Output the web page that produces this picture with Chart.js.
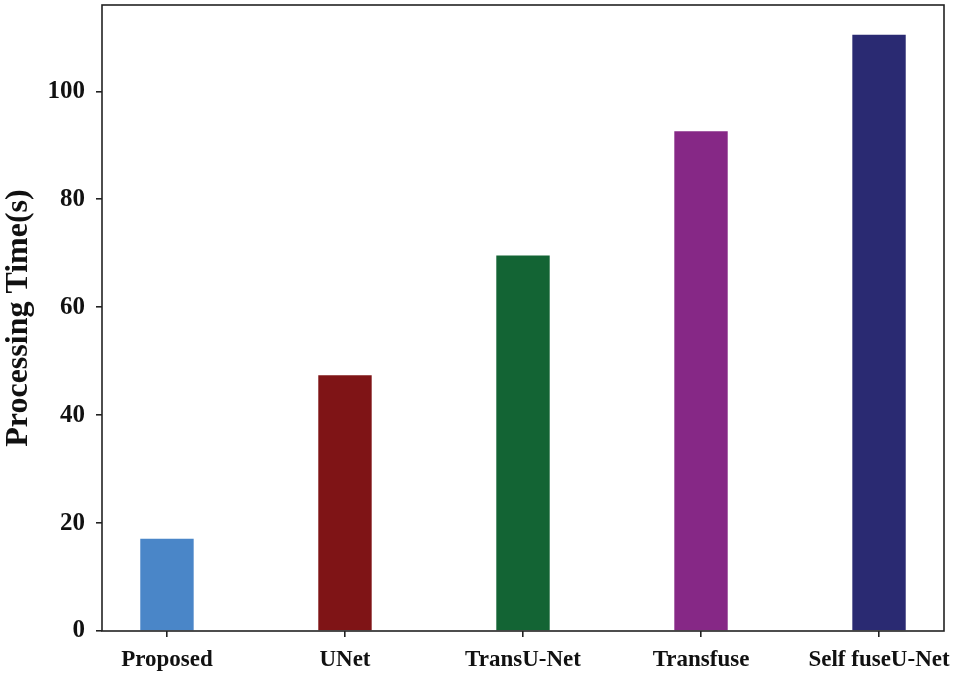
<!DOCTYPE html>
<html>
<head>
<meta charset="utf-8">
<script src="https://cdn.jsdelivr.net/npm/chart.js@4/dist/chart.umd.min.js"></script>
<style>
    html, body { margin: 0; padding: 0; background: #fff; }
    #wrap { width: 955px; height: 673px; }
</style>
</head>
<body>
<div id="wrap"><canvas id="timeChart" width="955" height="673"></canvas></div>
<script>
const methods = ['Proposed', 'UNet', 'TransU-Net', 'Transfuse', 'Self fuseU-Net'];
const processingTimes = [17.1, 47.4, 69.6, 92.6, 110.5];
const barColors = ['#4a86c8', '#7f1416', '#136434', '#862886', '#2a2a72'];
const yTicks = [0, 20, 40, 60, 80, 100];

const serif = "'Liberation Serif', 'Times New Roman', serif";

// box round the plot area, like matplotlib's spines
const frame = {
    id: 'frame',
    afterDraw(chart) {
        const { ctx, chartArea: a } = chart;
        ctx.save();
        ctx.strokeStyle = '#222';
        ctx.lineWidth = 1.6;
        ctx.strokeRect(a.left, a.top, a.right - a.left, a.bottom - a.top);
        ctx.restore();
    }
};

new Chart(document.getElementById('timeChart').getContext('2d'), {
    type: 'bar',
    data: {
        datasets: [{
            data: processingTimes.map((v, i) => ({ x: i, y: v })),
            backgroundColor: barColors,
            borderWidth: 0,
            categoryPercentage: 1,
            barPercentage: 0.3
        }]
    },
    options: {
        responsive: false,
        animation: false,
        layout: { padding: { top: 5, right: 11, left: 0, bottom: 0 } },
        plugins: { legend: { display: false }, tooltip: { enabled: false } },
        scales: {
            x: {
                type: 'linear',
                min: -0.365,
                max: 4.365,
                offset: false,
                grid: { display: true, offset: false, drawOnChartArea: false, drawTicks: true, tickLength: 6, tickColor: '#222', lineWidth: 1.6 },
                border: { display: false },
                afterBuildTicks(scale) { scale.ticks = methods.map((m, i) => ({ value: i })); },
                ticks: {
                    color: '#111',
                    font: { family: serif, size: 23, weight: 'bold' },
                    padding: 9,
                    maxRotation: 0,
                    autoSkip: false,
                    callback: v => methods[v]
                },
                afterFit(scale) {
                    scale.height = 42;
                    scale.paddingLeft = 0;
                    scale.paddingRight = 0;
                }
            },
            y: {
                min: 0,
                max: 116,
                grid: { display: true, drawOnChartArea: false, drawTicks: true, tickLength: 6, tickColor: '#222', lineWidth: 1.6 },
                border: { display: false },
                afterBuildTicks(scale) { scale.ticks = yTicks.map(v => ({ value: v })); },
                ticks: { color: '#111', font: { family: serif, size: 25, weight: 'bold' }, padding: 11 },
                title: {
                    display: true,
                    text: 'Processing Time(s)',
                    color: '#111',
                    font: { family: serif, size: 32, weight: 'bold' },
                    padding: { top: 0, bottom: 0 }
                },
                afterFit(scale) {
                    scale.width = 102;
                    scale.paddingTop = 0;
                    scale.paddingBottom = 0;
                }
            }
        }
    },
    plugins: [frame]
});
</script>
</body>
</html>
